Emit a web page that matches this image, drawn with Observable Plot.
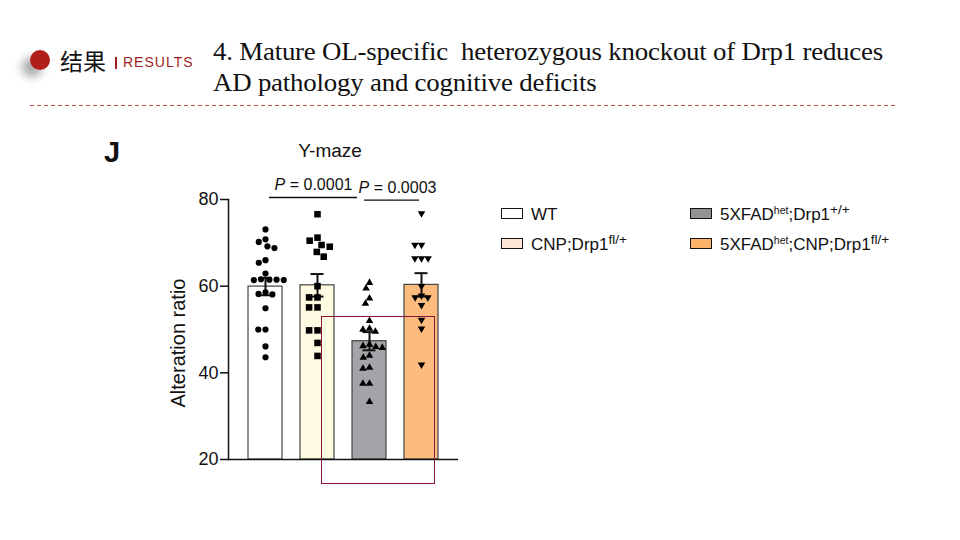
<!DOCTYPE html>
<html><head><meta charset="utf-8">
<script src="https://cdn.jsdelivr.net/npm/d3@7"></script>
<script src="https://cdn.jsdelivr.net/npm/@observablehq/plot@0.6"></script>
<style>
body{margin:0;background:#fff;}
#page{position:relative;width:960px;height:540px;overflow:hidden;font-family:"Liberation Sans",Arial,sans-serif;color:#111;}
.abs{position:absolute;white-space:nowrap;line-height:1;}
.sw{position:absolute;width:22px;height:11px;box-sizing:border-box;border:1.6px solid #111;}
sup.s{font-size:0.8em;vertical-align:0.45em;line-height:0;}
sup.h{font-size:0.62em;vertical-align:0.55em;line-height:0;}
#chart{position:absolute;left:140px;top:170px;width:330px;height:300px;}
#chart svg{position:absolute;left:0;top:0;overflow:visible;}
</style></head><body><div id="page">
  <div class="abs" style="left:30px;top:50px;width:20px;height:20px;border-radius:50%;background:#b01f1a;box-shadow:-8px 7px 10px rgba(0,0,0,0.35);"></div>
  <div class="abs" style="left:60px;top:49px;font-family:'Noto Sans CJK SC';font-size:23px;line-height:23px;">结果</div>
  <div class="abs" style="left:115px;top:57px;width:2px;height:12px;background:#a01c20;"></div>
  <div class="abs" style="left:123px;top:55px;font-size:14px;letter-spacing:1px;color:#a01c20;">RESULTS</div>
  <div class="abs" style="left:213px;top:36px;font-family:'Liberation Serif','Times New Roman',serif;font-size:26px;line-height:31px;letter-spacing:-0.2px;transform-origin:0 0;transform:scaleX(1.033);">4. Mature OL-specific&nbsp; heterozygous knockout of Drp1 reduces<br>AD pathology and cognitive deficits</div>
  <div class="abs" style="left:30px;top:105px;width:866px;height:1px;background:repeating-linear-gradient(to right,#c0504d 0 4px,transparent 4px 7px);"></div>
  <div class="abs" style="left:104px;top:138px;font-size:29px;font-weight:bold;">J</div>
  <div class="abs" style="left:330px;top:141px;font-size:19px;transform:translateX(-50%);">Y-maze</div>
  <div class="abs" style="left:178px;top:343px;font-size:20px;transform:translate(-50%,-50%) rotate(-90deg);">Alteration ratio</div>
  <div id="chart"></div>
  <div id="legend"></div>
  <div class="abs" style="left:321px;top:316px;width:114px;height:168px;box-sizing:border-box;border:1px solid #8b1538;"></div>
</div>
<script>
// ---- data ----
const groups = ["WT", "CNP;Drp1fl/+", "5XFADhet;Drp1+/+", "5XFADhet;CNP;Drp1fl/+"];
const means = [59.9, 60.2, 47.3, 60.3];
const sems = [2.0, 2.6, 2.1, 2.7];
const wtValues = [73.1, 70.8, 70.2, 69.2, 68.8, 66.0, 65.4, 62.9, 61.6, 61.5, 61.5, 61.4, 61.4, 58.6, 58.2, 58.1, 54.9, 50.0, 50.0, 46.1, 43.6];
const cnpValues = [76.6, 71.2, 70.5, 69.5, 69.1, 67.9, 66.8, 60.0, 57.4, 57.4, 55.1, 55.1, 49.8, 49.8, 46.9, 43.9];
const fadValues = [60.8, 59.5, 57.2, 56.0, 52.0, 50.2, 50.0, 49.5, 46.5, 46.2, 46.0, 45.8, 44.0, 43.5, 41.2, 41.0, 37.5, 37.5, 33.3];
const fadCnpValues = [76.8, 69.5, 69.5, 66.4, 66.4, 66.4, 60.0, 57.8, 57.4, 57.4, 55.6, 52.2, 50.2, 41.9];
const yTicks = [20, 40, 60, 80];
const pLabels = ["P = 0.0001", "P = 0.0003"];

// ---- styles ----
const barFills = ["#ffffff", "#fffbe2", "#a3a3a8", "#fdbb7e"];
const legendFills = ["#ffffff", "#fde6d6", "#939393", "#fcb46a"];

const bars = groups.map((g, i) => ({group: g, mean: means[i], lo: means[i] - sems[i], hi: means[i] + sems[i], fill: barFills[i]}));
const valueSets = [wtValues, cnpValues, fadValues, fadCnpValues];
const points = groups.flatMap((g, i) => valueSets[i].map(v => ({group: g, value: v})));

const W = 330, H = 300;
const margins = {marginLeft: 88, marginRight: 12, marginTop: 29, marginBottom: 11};
const band = {domain: groups, paddingInner: 0.35, paddingOuter: 0.375};

const plotA = Plot.plot({
  width: W, height: H, ...margins,
  style: {fontFamily: "Liberation Sans, Arial, sans-serif", color: "#111", background: "transparent"},
  x: {...band, axis: null},
  y: {domain: [20, 80], axis: null},
  marks: [
    Plot.barY(bars, {x: "group", y1: 20, y2: "mean", fill: "fill", stroke: "#444", strokeWidth: 1.2}),
    Plot.ruleX(bars, {x: "group", y1: "lo", y2: "hi", stroke: "#111", strokeWidth: 2}),
    Plot.tickY(bars, {x: "group", y: "hi", stroke: "#111", strokeWidth: 2, insetLeft: 10.5, insetRight: 10.5}),
    Plot.tickY(bars, {x: "group", y: "lo", stroke: "#111", strokeWidth: 2, insetLeft: 10.5, insetRight: 10.5}),
    Plot.axisY({ticks: yTicks, tickSize: 8, tickPadding: 2, fontSize: 18, label: null, strokeWidth: 1.5, tickFormat: d => String(d)}),
    Plot.frame({anchor: "left", strokeWidth: 1.5}),
    Plot.ruleY([20], {strokeWidth: 1.5}),
    Plot.ruleY([80.46], {x1: () => groups[0], x2: () => groups[2], y: d => d, strokeWidth: 1.3, insetLeft: 21, insetRight: 29}),
    Plot.ruleY([79.85], {x1: () => groups[2], x2: () => groups[3], y: d => d, strokeWidth: 1.3, insetLeft: 12, insetRight: 19}),
    Plot.text([pLabels[0]], {x: () => groups[1], y: 82.1, text: d => d, dx: -4, lineAnchor: "bottom", fontSize: 16}),
    Plot.text([pLabels[1]], {x: () => groups[2], y: 81.4, text: d => d, dx: 28, lineAnchor: "bottom", fontSize: 16})
  ]
});

const triangleDown = {draw(ctx, size) {
  const y = Math.sqrt(size / (Math.sqrt(3) * 3));
  ctx.moveTo(0, 2 * y); ctx.lineTo(-Math.sqrt(3) * y, -y); ctx.lineTo(Math.sqrt(3) * y, -y); ctx.closePath();
}};
const symbols = ["circle", "square", "triangle", triangleDown];
const radii = [3.1, 3.7, 2.8, 2.8];
const pads = [1.4, 2.6, 3.0, 3.0];

const plotB = Plot.plot({
  width: W, height: H, ...margins,
  style: {background: "transparent"},
  fx: {...band, axis: null},
  y: {domain: [20, 80], axis: null},
  marks: groups.map((g, i) =>
    Plot.dot(points.filter(d => d.group === g), Plot.dodgeX("middle", {fx: "group", y: "value", r: radii[i], padding: pads[i], symbol: symbols[i], fill: "#000", stroke: "none"}))
  )
});

const chart = document.getElementById("chart");
chart.append(plotA, plotB);
plotA.querySelectorAll("text").forEach(t => {
  const s = t.textContent;
  if (s.startsWith("P = ")) {
    t.textContent = "";
    const ns = "http://www.w3.org/2000/svg";
    const a = document.createElementNS(ns, "tspan"); a.setAttribute("font-style", "italic"); a.textContent = "P";
    const b = document.createElementNS(ns, "tspan"); b.textContent = s.slice(1);
    t.append(a, b);
  }
});

// ---- legend ----
const legendHTML = [
  ["WT"],
  ["CNP;Drp1", "<sup class='s'>fl/+</sup>"],
  ["5XFAD<sup class='h'>het</sup>;Drp1", "<sup class='s'>+/+</sup>"],
  ["5XFAD<sup class='h'>het</sup>;CNP;Drp1", "<sup class='s'>fl/+</sup>"]
];
const legendPos = [[501, 207], [501, 237], [690, 207], [690, 237]];
const leg = document.getElementById("legend");
groups.forEach((g, i) => {
  const [x, y] = legendPos[i];
  const sw = document.createElement("div"); sw.className = "sw";
  sw.style.left = x + "px"; sw.style.top = (y + 1) + "px"; sw.style.background = legendFills[i];
  const tx = document.createElement("div"); tx.className = "abs";
  tx.style.left = (x + 30) + "px"; tx.style.top = (y - 1) + "px"; tx.style.fontSize = "17px";
  tx.innerHTML = legendHTML[i].join("");
  tx.title = g;
  leg.append(sw, tx);
});
</script>
</body></html>
